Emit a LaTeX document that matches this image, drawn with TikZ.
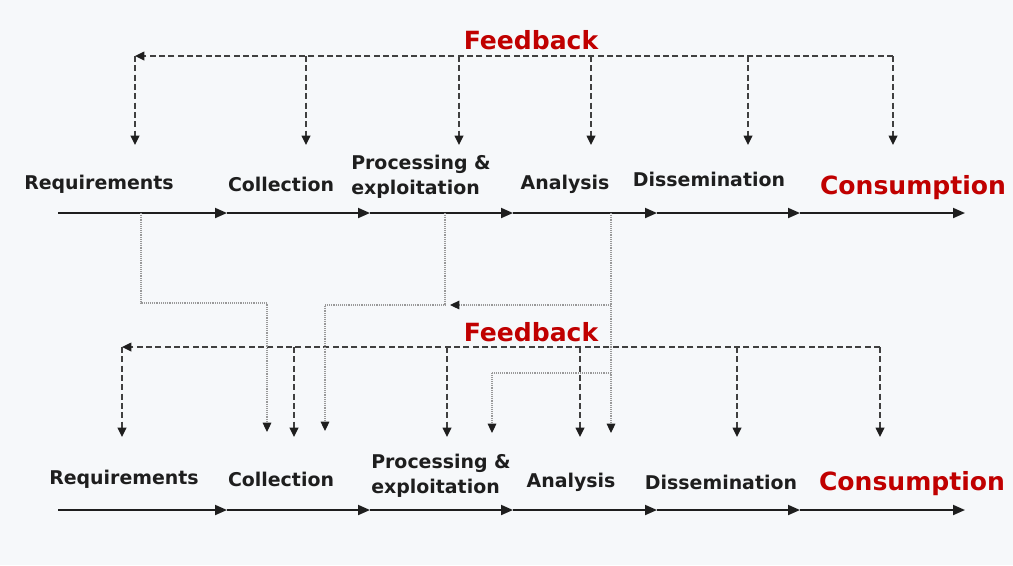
\documentclass[tikz,border=0pt]{standalone}
\usepackage{fontspec}
\setmainfont{DejaVu Sans}
\usetikzlibrary{arrows.meta}
\definecolor{fbred}{RGB}{192,0,0}
\definecolor{bgc}{RGB}{246,248,250}
\definecolor{ink}{RGB}{30,30,30}
\begin{document}
\begin{tikzpicture}[x=0.75pt,y=-0.75pt,
  lbl/.style={font=\fontsize{14.2}{18.75}\selectfont\bfseries, text=ink, inner sep=0pt, align=left},
  redlbl/.style={font=\fontsize{18.8}{22}\selectfont\bfseries, text=fbred, inner sep=0pt},
  flow/.style={line width=1.4pt, draw=ink, -{Triangle[length=9pt,width=7.5pt]}},
  fb/.style={dash pattern=on 4.5pt off 2.5pt, line width=1.1pt, draw=black!75, -{Triangle[length=7pt,width=6.5pt,color=ink]}},
  dot/.style={dash pattern=on 0.7pt off 0.7pt, line width=0.8pt, draw=black!40, -{Triangle[length=7pt,width=6.5pt,color=ink]}}]
\fill[bgc] (0,0) rectangle (1013,565);
\useasboundingbox (0,0) rectangle (1013,565);

% ---------- timeline coordinates
\foreach \n/\x in {0/58,1/227,2/370,3/513,4/657,5/800,6/965}{
  \coordinate (t\n) at (\x,213);
  \coordinate (b\n) at (\x,510);
}
% ---------- top row labels
\node[lbl] (treq) at (99,184) {Requirements};
\node[lbl] (tcol) at (281,184) {Collection};
\node[lbl] (tproc) at (421,177) {Processing \&\\exploitation};
\node[lbl] (tana) at (565,184) {Analysis};
\node[lbl] (tdis) at (709,179) {Dissemination};
\node[redlbl] (tcon) at (913,188) {Consumption};
\node[redlbl] (tfb) at (531,40) {Feedback};
% ---------- bottom row labels
\node[lbl] (breq) at (124,479) {Requirements};
\node[lbl] (bcol) at (281,479) {Collection};
\node[lbl] (bproc) at (441,476) {Processing \&\\exploitation};
\node[lbl] (bana) at (571,482) {Analysis};
\node[lbl] (bdis) at (721,482) {Dissemination};
\node[redlbl] (bcon) at (912,484) {Consumption};
\node[redlbl] (bfb) at (531,332) {Feedback};

% ---------- main flows
\foreach \a/\b in {0/1,1/2,2/3,3/4,4/5,5/6}{
  \draw[flow] (t\a) -- (t\b);
  \draw[flow] (b\a) -- (b\b);
}

% ---------- top feedback
\coordinate (tfL) at (135,56);
\coordinate (tfR) at (893,56);
\draw[fb] (tfR) -- (tfL);
\foreach \n/\x in {0/135,1/306,2/459,3/591,4/748,5/893}{
  \coordinate (tu\n) at (\x,56);
  \coordinate (td\n) at (\x,145);
  \draw[fb] (tu\n) -- (td\n);
}

% ---------- bottom feedback
\coordinate (bfL) at (122,347);
\coordinate (bfR) at (880,347);
\draw[fb] (bfR) -- (bfL);
\foreach \n/\x in {0/122,1/294,2/447,3/580,4/737,5/880}{
  \coordinate (bu\n) at (\x,347);
  \coordinate (bd\n) at (\x,437);
  \draw[fb] (bu\n) -- (bd\n);
}

% ---------- dotted cross links
\coordinate (dReq) at (141,213);
\coordinate (dProc) at (445,213);
\coordinate (dAna) at (611,213);
\coordinate (kReq) at (141,303);
\coordinate (kProc) at (445,305);
\coordinate (kAna) at (611,305);
\coordinate (kAna2) at (611,373);
\coordinate (eCol1) at (267,432);
\coordinate (eCol2) at (325,431);
\coordinate (eProc) at (492,433);
\coordinate (eAna) at (611,433);
\coordinate (aTip) at (450,305);

\draw[dot] (dReq) -- (kReq) -| (eCol1);
\draw[dot] (dProc) -- (kProc) -| (eCol2);
\draw[dot] (kAna) -- (aTip);
\draw[dot] (dAna) -- (eAna);
\draw[dot] (kAna2) -| (eProc);
\end{tikzpicture}
\end{document}
